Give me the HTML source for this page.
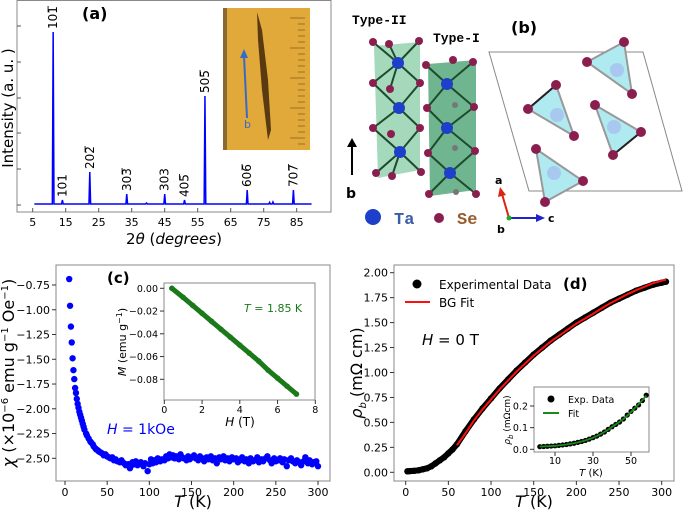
<!DOCTYPE html>
<html><head><meta charset="utf-8"><style>
html,body{margin:0;padding:0;background:#fff;}
svg{display:block;font-family:"DejaVu Sans","Liberation Sans",sans-serif;}
</style></head><body>
<svg id="fig" width="685" height="510" viewBox="0 0 685 510" xmlns="http://www.w3.org/2000/svg">
<g id="pa"></g>
<g id="pb">
  <text x="352" y="24" font-family="Liberation Mono,monospace" font-weight="bold" font-size="13">Type-II</text>
  <text x="433" y="42" font-family="Liberation Mono,monospace" font-weight="bold" font-size="13">Type-I</text>
  <text x="511" y="33" font-weight="bold" font-size="16">(b)</text>
  <polygon points="374,46 420,42 420,170 378,178" fill="#8fcfaa" opacity="0.8"/>
  <polygon points="428,64 476,60 476,190 430,196" fill="#5fae84" opacity="0.9"/>
  <g stroke="#1e4a2e" stroke-width="2">
    <line x1="373" y1="42" x2="398" y2="63"/><line x1="389" y1="44" x2="398" y2="63"/><line x1="419" y1="41" x2="398" y2="63"/>
    <line x1="373" y1="83" x2="398" y2="63"/><line x1="420" y1="83" x2="398" y2="63"/><line x1="390" y1="89" x2="398" y2="63"/>
    <line x1="373" y1="83" x2="399" y2="108"/><line x1="420" y1="83" x2="399" y2="108"/><line x1="373" y1="128" x2="399" y2="108"/><line x1="420" y1="128" x2="399" y2="108"/>
    <line x1="373" y1="128" x2="400" y2="152"/><line x1="420" y1="128" x2="400" y2="152"/><line x1="376" y1="173" x2="400" y2="152"/><line x1="421" y1="172" x2="400" y2="152"/><line x1="392" y1="176" x2="400" y2="152"/>
    <line x1="426" y1="65" x2="447" y2="84"/><line x1="473" y1="62" x2="447" y2="84"/><line x1="427" y1="108" x2="447" y2="84"/><line x1="474" y1="107" x2="447" y2="84"/>
    <line x1="427" y1="108" x2="447" y2="128"/><line x1="474" y1="107" x2="447" y2="128"/><line x1="428" y1="153" x2="447" y2="128"/><line x1="475" y1="151" x2="447" y2="128"/>
    <line x1="428" y1="153" x2="450" y2="173"/><line x1="475" y1="151" x2="450" y2="173"/><line x1="429" y1="194" x2="450" y2="173"/><line x1="476" y1="194" x2="450" y2="173"/>
  </g>
  <g fill="#1d3fc9">
    <circle cx="398" cy="63" r="6"/><circle cx="399" cy="108" r="6"/><circle cx="400" cy="152" r="6"/>
    <circle cx="447" cy="84" r="6"/><circle cx="447" cy="128" r="6"/><circle cx="450" cy="173" r="6"/>
  </g>
  <g fill="#8a1f4f">
    <circle cx="373" cy="42" r="4"/><circle cx="389" cy="44" r="4"/><circle cx="419" cy="41" r="4"/>
    <circle cx="373" cy="83" r="4"/><circle cx="420" cy="83" r="4"/><circle cx="390" cy="89" r="4"/>
    <circle cx="373" cy="128" r="4"/><circle cx="420" cy="128" r="4"/><circle cx="391" cy="134" r="4"/>
    <circle cx="376" cy="173" r="4"/><circle cx="392" cy="176" r="4"/><circle cx="421" cy="172" r="4"/>
    <circle cx="426" cy="65" r="4"/><circle cx="453" cy="60" r="4"/><circle cx="473" cy="62" r="4"/>
    <circle cx="427" cy="108" r="4"/><circle cx="474" cy="107" r="4"/><circle cx="455" cy="105" r="3" fill="#777"/>
    <circle cx="428" cy="153" r="4"/><circle cx="475" cy="151" r="4"/><circle cx="455" cy="148" r="3" fill="#777"/>
    <circle cx="429" cy="194" r="4"/><circle cx="476" cy="194" r="4"/><circle cx="456" cy="192" r="3" fill="#777"/>
  </g>
  <line x1="352" y1="175" x2="352" y2="143" stroke="#000" stroke-width="2"/>
  <polygon points="352,138 347,147 357,147" fill="#000"/>
  <text x="346" y="198" font-weight="bold" font-size="14">b</text>
  <circle cx="373" cy="217" r="8" fill="#1d3fc9"/>
  <text x="394" y="224" font-family="Liberation Mono,monospace" font-weight="bold" font-size="17" fill="#3a5ea8">Ta</text>
  <circle cx="439" cy="218" r="5" fill="#8a1f4f"/>
  <text x="457" y="224" font-family="Liberation Mono,monospace" font-weight="bold" font-size="17" fill="#9a5a2a">Se</text>
  <line x1="509" y1="218" x2="502" y2="194" stroke="#d21" stroke-width="2"/>
  <polygon points="500,187 498,197 506,195" fill="#d21"/>
  <text x="495" y="184" font-weight="bold" font-size="11">a</text>
  <line x1="509" y1="218" x2="538" y2="218" stroke="#22c" stroke-width="2"/>
  <polygon points="545,218 536,214 536,222" fill="#22c"/>
  <text x="548" y="222" font-weight="bold" font-size="11">c</text>
  <circle cx="509" cy="218" r="2.5" fill="#2a2"/>
  <text x="497" y="233" font-weight="bold" font-size="11">b</text>
  <polygon points="489,52 643,52 682,191 529,191" fill="none" stroke="#888" stroke-width="1"/>
  <g>
    <polygon points="624,42 587,62 632,94" fill="#aeeaf0" stroke="#999" stroke-width="2"/>
    <circle cx="617" cy="70" r="7" fill="#a8c8f0"/>
    <polygon points="556,85 528,109 574,136" fill="#aeeaf0" stroke="#999" stroke-width="2"/>
    <line x1="556" y1="85" x2="528" y2="109" stroke="#222" stroke-width="2"/>
    <circle cx="557" cy="115" r="7" fill="#a8c8f0"/>
    <polygon points="595,105 641,132 613,155" fill="#aeeaf0" stroke="#999" stroke-width="2"/>
    <line x1="641" y1="132" x2="613" y2="155" stroke="#222" stroke-width="2"/>
    <circle cx="614" cy="127" r="7" fill="#a8c8f0"/>
    <polygon points="536,149 583,181 545,202" fill="#aeeaf0" stroke="#999" stroke-width="2"/>
    <circle cx="554" cy="173" r="7" fill="#a8c8f0"/>
    <g fill="#8a1f4f">
      <circle cx="624" cy="42" r="5"/><circle cx="587" cy="62" r="5"/><circle cx="632" cy="94" r="5"/>
      <circle cx="556" cy="85" r="5"/><circle cx="528" cy="109" r="5"/><circle cx="574" cy="136" r="5"/>
      <circle cx="595" cy="105" r="5"/><circle cx="641" cy="132" r="5"/><circle cx="613" cy="155" r="5"/>
      <circle cx="536" cy="149" r="5"/><circle cx="583" cy="181" r="5"/><circle cx="545" cy="202" r="5"/>
    </g>
  </g>
</g>
<g id="pc"></g>
<g id="pd"></g>
</svg>
<script>
// ---------- Panel (a) data ----------
const xrdPeakPos = [11.2, 14.0, 22.3, 33.5, 45.0, 51.0, 57.2, 70.0, 84.0, 39.5, 76.8, 77.8];
const xrdPeakInt = [0.86, 0.02, 0.16, 0.05, 0.05, 0.02, 0.54, 0.07, 0.07, 0.005, 0.008, 0.01];
const xrdLabels = ["101\u0305","101","202\u0305","303\u0305","303","405\u0305","505\u0305","606\u0305","707\u0305"];
const xrdXTicks = [5,15,25,35,45,55,65,75,85];
// ---------- Panel (c) data ----------
const chiT = [5,6,7,8,9,10,11,12,13,14,15,16,17,18,19,20,21,22,23,25,26,28,30,31,33,34,36,37,39,40,42,44,46,48,50,52,54,56,58,60,62,65,67,70,72,75,77,78,80,82,84,86,88,90,93,95,98,100,102,104,106,108,110,113,115,118,120,122,124,126,128,130,132,135,137,139,141,144,146,148,150,153,155,158,160,163,165,168,170,173,175,178,180,183,185,188,190,193,195,198,200,203,205,208,210,213,215,218,220,223,225,228,230,233,235,238,240,243,245,248,250,253,255,258,260,263,265,268,270,273,275,278,280,283,285,288,290,293,295,298,300];
const chiV = [-0.69,-0.96,-1.17,-1.33,-1.49,-1.61,-1.70,-1.79,-1.84,-1.90,-1.95,-1.99,-2.03,-2.06,-2.09,-2.12,-2.15,-2.18,-2.21,-2.25,-2.27,-2.30,-2.33,-2.34,-2.36,-2.38,-2.40,-2.41,-2.42,-2.43,-2.44,-2.45,-2.47,-2.46,-2.48,-2.49,-2.50,-2.49,-2.52,-2.51,-2.53,-2.54,-2.52,-2.55,-2.57,-2.56,-2.60,-2.58,-2.54,-2.56,-2.53,-2.57,-2.55,-2.54,-2.58,-2.55,-2.63,-2.56,-2.51,-2.55,-2.52,-2.54,-2.50,-2.53,-2.51,-2.52,-2.48,-2.50,-2.46,-2.49,-2.47,-2.50,-2.48,-2.51,-2.46,-2.49,-2.50,-2.52,-2.48,-2.51,-2.49,-2.47,-2.50,-2.52,-2.48,-2.50,-2.53,-2.49,-2.51,-2.48,-2.52,-2.50,-2.55,-2.49,-2.51,-2.48,-2.52,-2.50,-2.53,-2.49,-2.51,-2.50,-2.54,-2.52,-2.49,-2.53,-2.51,-2.55,-2.50,-2.53,-2.52,-2.49,-2.54,-2.51,-2.53,-2.50,-2.48,-2.52,-2.55,-2.50,-2.53,-2.52,-2.50,-2.54,-2.51,-2.58,-2.52,-2.50,-2.53,-2.55,-2.52,-2.54,-2.57,-2.53,-2.49,-2.55,-2.52,-2.56,-2.54,-2.53,-2.58];
const chiYTicks = [-0.75,-1.00,-1.25,-1.50,-1.75,-2.00,-2.25,-2.50];
const chiXTicks = [0,50,100,150,200,250,300];
const mH = [0.4,1.0,1.5,2.0,2.5,3.0,3.5,4.0,4.5,5.0,5.5,6.0,6.5,7.0];
const mV = [0.0,-0.008,-0.015,-0.022,-0.029,-0.036,-0.043,-0.050,-0.057,-0.064,-0.072,-0.079,-0.086,-0.093];
const mYTicks = [0.00,-0.02,-0.04,-0.06,-0.08];
const mXTicks = [0,2,4,6,8];
// ---------- Panel (d) data ----------
const rhoT = [2,5,10,15,20,25,30,35,40,45,50,55,60,70,80,90,100,110,120,130,140,150,160,170,180,190,200,210,220,230,240,250,260,270,280,290,300,305];
const rhoV = [0.01,0.012,0.015,0.02,0.03,0.04,0.06,0.09,0.12,0.15,0.19,0.23,0.28,0.41,0.53,0.64,0.74,0.84,0.93,1.02,1.10,1.18,1.25,1.32,1.38,1.44,1.50,1.55,1.60,1.65,1.70,1.74,1.78,1.82,1.85,1.88,1.90,1.91];
const fitT = [60,70,80,90,100,110,120,130,140,150,160,170,180,190,200,210,220,230,240,250,260,270,280,290,300,305];
const fitV = [0.27,0.39,0.52,0.63,0.73,0.83,0.92,1.01,1.09,1.17,1.24,1.31,1.37,1.43,1.49,1.54,1.59,1.645,1.695,1.74,1.785,1.825,1.86,1.895,1.92,1.93];
const rhoYTicks = [0,0.25,0.5,0.75,1.0,1.25,1.5,1.75,2.0];
const rhoXTicks = [0,50,100,150,200,250,300];
const inT = [2,4,6,8,10,12,14,16,18,20,22,24,26,28,30,32,34,36,38,40,42,44,46,48,50,52,54,56,58];
const inV = [0.012,0.013,0.014,0.015,0.016,0.018,0.020,0.022,0.025,0.028,0.032,0.036,0.041,0.047,0.054,0.061,0.070,0.080,0.092,0.104,0.115,0.126,0.14,0.158,0.175,0.19,0.205,0.225,0.25];
const inFitV = [0.013,0.013,0.014,0.015,0.016,0.018,0.020,0.022,0.025,0.028,0.032,0.036,0.041,0.047,0.053,0.061,0.070,0.080,0.091,0.103,0.115,0.127,0.14,0.155,0.172,0.19,0.208,0.227,0.248];
const inYTicks = [0.0,0.1,0.2];
const inXTicks = [10,30,50];

const NS="http://www.w3.org/2000/svg";
function mk(parent,tag,attrs,text){const e=document.createElementNS(NS,tag);for(const k in attrs)e.setAttribute(k,attrs[k]);if(text!==undefined)e.textContent=text;parent.appendChild(e);return e;}
function lin(d0,d1,r0,r1){return v=>r0+(v-d0)*(r1-r0)/(d1-d0);}
function fmt2(v){return (v<0?"\u2212":"")+Math.abs(v).toFixed(2);}

// ---------- Panel (a) ----------
(function(){
const g=document.getElementById('pa');
const x=lin(5,85,32.7,296.7), y=lin(0,1,204,4);
mk(g,'rect',{x:17,y:0.5,width:314,height:211.5,fill:'none',stroke:'#888','stroke-width':1});
const yt=[205,169,133,98,62,26];
yt.forEach(v=>mk(g,'line',{x1:17,x2:21,y1:v,y2:v,stroke:'#555'}));
xrdXTicks.forEach(t=>{mk(g,'line',{x1:x(t),x2:x(t),y1:212,y2:208,stroke:'#555'});
 const lb=mk(g,'text',{x:x(t),y:226,'text-anchor':'middle','font-size':11},String(t));
 
 });
let d=`M${x(5.5)},${y(0)}`;
const idx=xrdPeakPos.map((p,i)=>i).sort((a,b)=>xrdPeakPos[a]-xrdPeakPos[b]);
idx.forEach(i=>{const p=xrdPeakPos[i];d+=` L${x(p-0.25)},${y(0)} L${x(p)},${y(xrdPeakInt[i])} L${x(p+0.25)},${y(0)}`;});
d+=` L${x(89.5)},${y(0)}`;
const line=mk(g,'path',{d:d,fill:'none',stroke:'#0000ff','stroke-width':1.5});


xrdLabels.forEach((l,i)=>{const px=x(xrdPeakPos[i])+4,py=y(xrdPeakInt[i])-3;
 const t=mk(g,'text',{x:px,y:py,transform:`rotate(-90 ${px} ${py})`,'font-size':12},l);
 
 });
const yl=mk(g,'text',{x:13,y:108,transform:'rotate(-90 13 108)','text-anchor':'middle','font-size':15},'Intensity (a. u. )');


const xl=mk(g,'text',{x:174,y:244,'text-anchor':'middle','font-size':15});


xl.innerHTML='2<tspan font-style="italic">θ</tspan> (<tspan font-style="italic">degrees</tspan>)';
const pl=mk(g,'text',{x:82,y:19,'font-weight':'bold','font-size':16},'(a)');


const ph=mk(g,'g',{});


mk(ph,'rect',{x:223,y:8,width:87,height:142,fill:'#e0a93a'});
mk(ph,'rect',{x:223,y:8,width:4,height:142,fill:'#8a6a30'});
mk(ph,'path',{d:'M257,12 L262,30 L268,80 L271,130 L268,140 L262,90 L258,40 Z',fill:'#5a3a10'});
for(let i=0;i<22;i++){const yy=18+i*6;mk(ph,'line',{x1:305,x2:i%5==0?290:298,y1:yy,y2:yy,stroke:'#8a6020','stroke-width':0.8});}
mk(ph,'line',{x1:247,y1:118,x2:244,y2:56,stroke:'#3a6ac8','stroke-width':2});
mk(ph,'polygon',{points:'244,49 240,58 248,58',fill:'#3a6ac8'});
mk(ph,'text',{x:244,y:128,'font-size':11,fill:'#3a6ac8'},'b');
})();

// ---------- Panel (c) ----------
(function(){
const g=document.getElementById('pc');
const x=lin(0,300,65,318), y=lin(-0.75,-2.5,285,458.3);
mk(g,'rect',{x:56,y:265,width:274,height:216,fill:'none',stroke:'#888'});
chiYTicks.forEach(v=>{mk(g,'line',{x1:52,x2:56,y1:y(v),y2:y(v),stroke:'#333'});
 const t=mk(g,'text',{x:50,y:y(v)+4,'text-anchor':'end','font-size':11},fmt2(v));
 
 });
chiXTicks.forEach(v=>{mk(g,'line',{x1:x(v),x2:x(v),y1:481,y2:485,stroke:'#333'});
 const t=mk(g,'text',{x:x(v),y:496,'text-anchor':'middle','font-size':11},String(v));
 
 });
chiT.forEach((t,i)=>{const c=mk(g,'circle',{cx:x(t),cy:y(chiV[i]),r:3.2,fill:'#0000ff'});
 
 });
const yl=mk(g,'text',{x:14,y:373,transform:'rotate(-90 14 373)','text-anchor':'middle','font-size':16});


yl.innerHTML='<tspan font-style="italic">χ</tspan> (×10<tspan dy="-6" font-size="10">−6</tspan><tspan dy="6"> emu g</tspan><tspan dy="-6" font-size="10">−1</tspan><tspan dy="6"> Oe</tspan><tspan dy="-6" font-size="10">−1</tspan><tspan dy="6">)</tspan>';
const xl=mk(g,'text',{x:193,y:507,'text-anchor':'middle','font-size':16});


xl.innerHTML='<tspan font-style="italic">T</tspan> (K)';
const hl=mk(g,'text',{x:107,y:434,'font-size':14,fill:'#0000ff'});


hl.innerHTML='<tspan font-style="italic">H</tspan> = 1kOe';
const pl=mk(g,'text',{x:107,y:283,'font-weight':'bold','font-size':15},'(c)');


const ig=mk(g,'g',{});


const ix=lin(0,8,164.3,315.3), iy=lin(0,-0.08,288.3,379.3);
mk(ig,'rect',{x:164,y:283,width:151,height:117,fill:'#fff',stroke:'#888'});
mYTicks.forEach(v=>{mk(ig,'line',{x1:160,x2:164,y1:iy(v),y2:iy(v),stroke:'#333'});
 const t=mk(ig,'text',{x:158,y:iy(v)+3.5,'text-anchor':'end','font-size':9.5},fmt2(v));
 
 });
mXTicks.forEach(v=>{mk(ig,'line',{x1:ix(v),x2:ix(v),y1:400,y2:404,stroke:'#333'});
 const t=mk(ig,'text',{x:ix(v),y:413,'text-anchor':'middle','font-size':9.5},String(v));
 
 });
const ml=mk(ig,'polyline',{points:mH.map((h,i)=>ix(h)+','+iy(mV[i])).join(' '),fill:'none',stroke:'#1a7a1a','stroke-width':5,'stroke-linecap':'round'});


mH.forEach((h,i)=>{const c=mk(ig,'circle',{cx:ix(h),cy:iy(mV[i]),r:2.8,fill:'#1a7a1a'});
 
 });
const tl=mk(ig,'text',{x:244,y:312,'font-size':11,fill:'#1a7a1a'});


tl.innerHTML='<tspan font-style="italic">T</tspan> = 1.85 K';
const iyl=mk(ig,'text',{x:126,y:342,transform:'rotate(-90 126 342)','text-anchor':'middle','font-size':11});


iyl.innerHTML='<tspan font-style="italic">M</tspan> (emu g<tspan dy="-4" font-size="8">−1</tspan><tspan dy="4">)</tspan>';
const ixl=mk(ig,'text',{x:240,y:426,'text-anchor':'middle','font-size':12});


ixl.innerHTML='<tspan font-style="italic">H</tspan> (T)';
})();

// ---------- Panel (d) ----------
(function(){
const g=document.getElementById('pd');
const x=lin(0,300,405.7,661.7), y=lin(0,2,472.3,272.7);
mk(g,'rect',{x:394,y:265,width:280,height:216,fill:'none',stroke:'#888'});
rhoYTicks.forEach(v=>{mk(g,'line',{x1:390,x2:394,y1:y(v),y2:y(v),stroke:'#333'});
 const t=mk(g,'text',{x:388,y:y(v)+4,'text-anchor':'end','font-size':11},v.toFixed(2));
 
 });
rhoXTicks.forEach(v=>{mk(g,'line',{x1:x(v),x2:x(v),y1:481,y2:485,stroke:'#333'});
 const t=mk(g,'text',{x:x(v),y:496,'text-anchor':'middle','font-size':11},String(v));
 
 });
const dl=mk(g,'polyline',{points:rhoT.map((t,i)=>x(t)+','+y(rhoV[i])).join(' '),fill:'none',stroke:'#000','stroke-width':6,'stroke-linecap':'round','stroke-linejoin':'round'});


rhoT.forEach((t,i)=>{const c=mk(g,'circle',{cx:x(t),cy:y(rhoV[i]),r:3.2,fill:'#000'});
 
 });
const fl=mk(g,'polyline',{points:fitT.map((t,i)=>x(t)+','+y(fitV[i])).join(' '),fill:'none',stroke:'#ff1010','stroke-width':2});


const lg=mk(g,'g',{});


mk(lg,'circle',{cx:417,cy:284,r:4.5,fill:'#000'});
mk(lg,'text',{x:439,y:289,'font-size':12},'Experimental Data');
mk(lg,'line',{x1:405,x2:430,y1:302,y2:302,stroke:'#ff1010','stroke-width':2});
mk(lg,'text',{x:439,y:307,'font-size':12},'BG Fit');
const pl=mk(g,'text',{x:563,y:289,'font-weight':'bold','font-size':15},'(d)');


const hl=mk(g,'text',{x:422,y:345,'font-size':15});


hl.innerHTML='<tspan font-style="italic">H</tspan> = 0 T';
const yl=mk(g,'text',{x:362,y:373,transform:'rotate(-90 362 373)','text-anchor':'middle','font-size':16});


yl.innerHTML='<tspan font-style="italic">ρ</tspan><tspan dy="4" font-size="10" font-style="italic">b</tspan><tspan dy="-4"> (mΩ cm)</tspan>';
const xl=mk(g,'text',{x:534,y:507,'text-anchor':'middle','font-size':16});


xl.innerHTML='<tspan font-style="italic">T</tspan> (K)';
const ig=mk(g,'g',{});


const ix=lin(10,50,555,631), iy=lin(0,0.2,449.3,406);
mk(ig,'rect',{x:534,y:387,width:115,height:65,fill:'#fff',stroke:'#888'});
inYTicks.forEach(v=>{mk(ig,'line',{x1:530,x2:534,y1:iy(v),y2:iy(v),stroke:'#333'});
 const t=mk(ig,'text',{x:528,y:iy(v)+3.5,'text-anchor':'end','font-size':9.5},v.toFixed(1));
 
 });
inXTicks.forEach(v=>{mk(ig,'line',{x1:ix(v),x2:ix(v),y1:452,y2:456,stroke:'#333'});
 const t=mk(ig,'text',{x:ix(v),y:464,'text-anchor':'middle','font-size':9.5},String(v));
 
 });
inT.forEach((t,i)=>{const c=mk(ig,'circle',{cx:ix(t),cy:iy(inV[i]),r:2.6,fill:'#000'});
 
 });
const ifl=mk(ig,'polyline',{points:inT.map((t,i)=>ix(t)+','+iy(inFitV[i])).join(' '),fill:'none',stroke:'#1a8a1a','stroke-width':1.8});


mk(ig,'circle',{cx:551,cy:399,r:3.5,fill:'#000'});
mk(ig,'text',{x:568,y:403,'font-size':9.5},'Exp. Data');
mk(ig,'line',{x1:543,x2:559,y1:413,y2:413,stroke:'#1a8a1a','stroke-width':2});
mk(ig,'text',{x:568,y:417,'font-size':9.5},'Fit');
const iyl=mk(ig,'text',{x:510,y:420,transform:'rotate(-90 510 420)','text-anchor':'middle','font-size':9});


iyl.innerHTML='<tspan font-style="italic">ρ</tspan><tspan dy="3" font-size="7" font-style="italic">b</tspan><tspan dy="-3"> (mΩcm)</tspan>';
const ixl=mk(ig,'text',{x:591,y:476,'text-anchor':'middle','font-size':10});


ixl.innerHTML='<tspan font-style="italic">T</tspan> (K)';
})();
</script>
</body></html>
